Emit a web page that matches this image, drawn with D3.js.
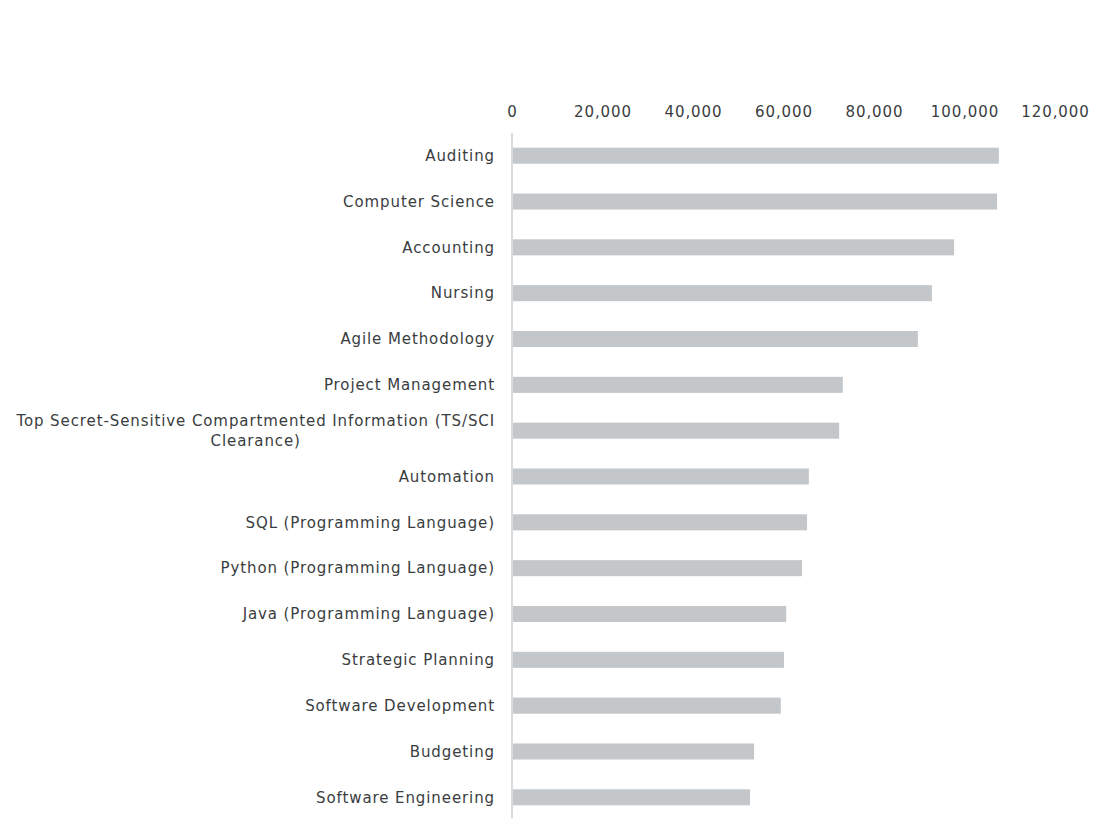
<!DOCTYPE html>
<html lang="en">
<head>
<meta charset="UTF-8">
<title>Skills</title>
<script src="https://d3js.org/d3.v7.min.js"></script>
<style>
  body{margin:0;background:#fff;}
  svg text{font-family:"DejaVu Sans",Verdana,sans-serif;font-size:15px;letter-spacing:0.9px;fill:#3a3d40;}
</style>
</head>
<body>
<div id="chart"></div>
<script>
const skills = ["Auditing","Computer Science","Accounting","Nursing","Agile Methodology","Project Management",
  "Top Secret-Sensitive Compartmented Information (TS/SCI Clearance)","Automation","SQL (Programming Language)",
  "Python (Programming Language)","Java (Programming Language)","Strategic Planning","Software Development",
  "Budgeting","Software Engineering"];
const values = [107600,107200,97700,92800,89700,73100,72300,65600,65200,64100,60600,60100,59400,53500,52600];
const ticks = [0,20000,40000,60000,80000,100000,120000];

const width=1103, height=834;
const svg=d3.select('#chart').append('svg').attr('width',width).attr('height',height);

const x=d3.scaleLinear().domain([0,120000]).range([512,1055]);
const y=d3.scaleBand().domain(skills).range([133,820]).paddingInner(0.65).paddingOuter(0.32);

// top axis labels
const xAxis=d3.axisTop(x).tickValues(ticks).tickSize(0).tickPadding(0).tickFormat(d3.format(','));
const gx=svg.append('g').attr('transform','translate(0,117)').call(xAxis);
gx.select('.domain').remove();
gx.selectAll('text').attr('font-size',null).attr('font-family',null);

// bars
svg.append('g').selectAll('rect').data(values).enter().append('rect')
  .attr('x',x(0)+1)
  .attr('y',(d,i)=>y(skills[i]))
  .attr('width',d=>x(d)-x(0)-1)
  .attr('height',y.bandwidth())
  .attr('fill','#c3c7ca');

// vertical axis line
svg.append('line').attr('x1',x(0)).attr('x2',x(0)).attr('y1',133).attr('y2',818)
  .attr('stroke','#d9dcdf').attr('stroke-width',2);

// category labels, wrapped when too long
const maxW=500;
const labels=svg.append('g');
skills.forEach((s,i)=>{
  const cy=y(s)+y.bandwidth()/2;
  const t=labels.append('text').attr('x',495).attr('y',cy).attr('dy','0.35em').attr('text-anchor','end').text(s);
  if(t.node().getComputedTextLength()>maxW){
    const words=s.split(' ');
    let lines=[], cur='';
    t.text('');
    words.forEach(w=>{
      const test=cur?cur+' '+w:w;
      t.text(test);
      if(t.node().getComputedTextLength()>maxW && cur){lines.push(cur);cur=w;} else cur=test;
    });
    lines.push(cur);
    t.text('');
    let widths=lines.map(l=>{t.text(l);return t.node().getComputedTextLength();});
    t.text('');
    const w=d3.max(widths);
    t.attr('text-anchor','middle').attr('x',495-w/2).attr('dy',null);
    const lh=20;
    lines.forEach((l,j)=>{
      t.append('tspan').attr('x',495-w/2).attr('y',cy+(j-(lines.length-1)/2)*lh).attr('dy','0.35em').text(l);
    });
  }
});
</script>
</body>
</html>
